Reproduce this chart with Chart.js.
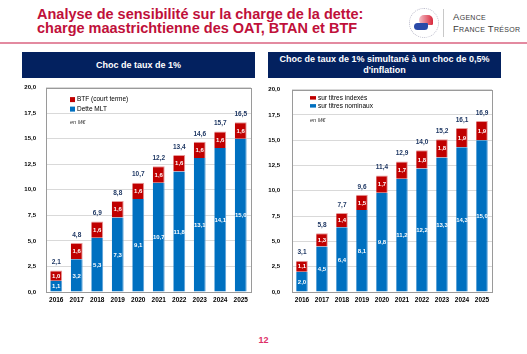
<!DOCTYPE html>
<html>
<head>
<meta charset="utf-8">
<script src="https://cdn.jsdelivr.net/npm/chart.js@4/dist/chart.umd.min.js"></script>
<style>
  body { margin: 0; width: 527px; height: 354px; background: #fff; position: relative; overflow: hidden; font-family: 'Liberation Sans', Arial, sans-serif; }
  .title { position: absolute; left: 37px; top: 7px; color: #c0103a; font-weight: bold; font-size: 14.5px; line-height: 14px; }
  .rule { position: absolute; left: 0; top: 42px; width: 527px; height: 2px; background: #e38aa0; }
  .hdr { position: absolute; top: 52px; height: 26px; background: #03215f; color: #fff; font-weight: bold; font-size: 9px; text-align: center; display: flex; align-items: center; justify-content: center; line-height: 11px; }
  .box { position: absolute; top: 74px; height: 234px; }
  .box canvas { display: block; }
  .logo-sep { position: absolute; left: 443px; top: 9px; width: 1px; height: 28px; background: #c8c8c8; }
  .logo-txt { position: absolute; left: 453px; top: 11px; color: #3a3a3a; font-size: 9.5px; line-height: 12px; font-variant: small-caps; letter-spacing: 0.3px; }
  .seal { position: absolute; left: 409px; top: 8px; width: 28px; height: 28px; border-radius: 50%; border: 1px dotted #b8b8c8; }
  .seal .r { position: absolute; left: 9px; top: 6px; width: 14px; height: 10px; border-radius: 8px 8px 2px 8px; background: linear-gradient(90deg, #f4c0c8, #d8283c); }
  .seal .b { position: absolute; left: 4px; top: 14px; width: 14px; height: 7px; border-radius: 6px 2px 6px 6px; background: #2a4aa8; }
  .page { position: absolute; left: 0; width: 527px; top: 335px; text-align: center; color: #de2f68; font-weight: bold; font-size: 9px; }
</style>
</head>
<body>
<div class="title">Analyse de sensibilité sur la charge de la dette:<br>charge maastrichtienne des OAT, BTAN et BTF</div>
<div class="seal"><div class="r"></div><div class="b"></div></div>
<div class="logo-sep"></div>
<div class="logo-txt">Agence<br>France Trésor</div>
<div class="rule"></div>

<div class="hdr" style="left:22px;width:233px;">Choc de taux de 1%</div>
<div class="hdr" style="left:268px;width:233px;">Choc de taux de 1% simultané à un choc de 0,5%<br>d'inflation</div>

<div class="box" style="left:18px;width:236px;"><canvas id="c1"></canvas></div>
<div class="box" style="left:264px;width:231px;"><canvas id="c2"></canvas></div>
<div class="page">12</div>

<script>
const years = ['2016', '2017', '2018', '2019', '2020', '2021', '2022', '2023', '2024', '2025'];

const mltDebt = [1.1, 3.2, 5.3, 7.3, 9.1, 10.7, 11.8, 13.1, 14.1, 15.0];
const btfShort = [1.0, 1.6, 1.6, 1.6, 1.6, 1.6, 1.6, 1.6, 1.6, 1.6];
const totalsRate = [2.1, 4.8, 6.9, 8.8, 10.7, 12.2, 13.4, 14.6, 15.7, 16.5];

const nominalTitles = [2.0, 4.5, 6.4, 8.1, 9.8, 11.2, 12.2, 13.3, 14.3, 15.0];
const indexedTitles = [1.1, 1.3, 1.4, 1.5, 1.7, 1.7, 1.8, 1.8, 1.9, 1.9];
const totalsInfl = [3.1, 5.8, 7.7, 9.6, 11.4, 12.9, 14.0, 15.2, 16.1, 16.9];

const BLUE = '#0070c0';
const RED = '#c00000';
const NAVY = '#1f3864';
const FONT = "'Liberation Sans', Arial, sans-serif";
const fmt = v => v.toFixed(1).replace('.', ',');

const decor = {
  id: 'decor',
  afterDatasetsDraw(chart, args, opts) {
    const { ctx, chartArea: a } = chart;
    ctx.save();
    ctx.strokeStyle = '#9a9a9a';
    ctx.lineWidth = 1;
    ctx.strokeRect(Math.round(a.left) + 0.5, Math.round(a.top) + 0.5, Math.round(a.right - a.left), Math.round(a.bottom - a.top));

    ctx.textAlign = 'center';
    ctx.textBaseline = 'middle';
    ctx.font = `bold 6px ${FONT}`;
    ctx.fillStyle = '#fff';
    chart.data.datasets.forEach((ds, i) => {
      chart.getDatasetMeta(i).data.forEach((bar, j) => {
        ctx.fillText(fmt(ds.data[j]), bar.x, (bar.y + bar.base) / 2 + 0.5);
      });
    });
    const top = chart.getDatasetMeta(chart.data.datasets.length - 1).data;
    ctx.fillStyle = NAVY;
    ctx.font = `bold 6.5px ${FONT}`;
    top.forEach((bar, j) => ctx.fillText(fmt(opts.totals[j]), bar.x, bar.y - 8));

    // legend, red entry first
    ctx.textAlign = 'left';
    ctx.font = `6.5px ${FONT}`;
    const lx = a.left + opts.lx;
    const items = [[RED, chart.data.datasets[1].label], [BLUE, chart.data.datasets[0].label]];
    items.forEach(([col, label], k) => {
      const y = a.top + opts.ly + k * opts.step;
      ctx.fillStyle = col;
      ctx.fillRect(lx, y - 2.5, opts.mw, opts.mh);
      ctx.fillStyle = '#000';
      ctx.fillText(label, lx + opts.mw + 2, y);
    });
    ctx.font = `italic 5.5px ${FONT}`;
    ctx.fillStyle = '#333';
    ctx.fillText('en M€', lx, a.top + opts.ey);
    ctx.restore();
  }
};

function renderStacked(canvasId, lower, upper, labels, totals, legendPos, yPad) {
  const canvas = document.getElementById(canvasId);
  return new Chart(canvas, {
    type: 'bar',
    data: {
      labels: years,
      datasets: [
        { label: labels[0], data: lower, backgroundColor: BLUE, borderColor: '#5aa0d8', borderWidth: { right: 1 }, borderSkipped: false },
        { label: labels[1], data: upper, backgroundColor: RED, borderColor: '#e79a9a', borderWidth: { top: 1, right: 1 }, borderSkipped: false },
      ],
    },
    options: {
      responsive: true, maintainAspectRatio: false, animation: false,
      categoryPercentage: 1, barPercentage: 0.58,
      layout: { padding: { top: 4.4, right: 3, left: 0, bottom: 0 } },
      plugins: { legend: { display: false }, tooltip: { enabled: false }, decor: { totals, ...legendPos } },
      scales: {
        x: {
          stacked: true,
          grid: { display: false, drawTicks: false },
          border: { display: false },
          ticks: { color: '#000', font: { family: FONT, size: 6.5, weight: 'bold' }, padding: 4, maxRotation: 0 },
          afterFit: s => { s.height = 16; },
        },
        y: {
          stacked: true, min: 0, max: 20,
          grid: { color: '#d9d9d9', drawTicks: false },
          border: { display: false },
          ticks: { stepSize: 2.5, color: '#000', padding: yPad, font: { family: FONT, size: 6, weight: 'bold' }, callback: v => fmt(v) },
          afterFit: s => { s.width = 28; },
        },
      },
    },
    plugins: [decor],
  });
}

renderStacked('c1', mltDebt, btfShort, ['Dette MLT', 'BTF (court terme)'], totalsRate,
  { lx: 24, ly: 12, step: 9.5, ey: 35, mw: 5, mh: 5 }, 10);
renderStacked('c2', nominalTitles, indexedTitles, ['sur titres nominaux', 'sur titres indexés'], totalsInfl,
  { lx: 18, ly: 9, step: 8, ey: 31, mw: 6, mh: 3.5 }, 12);
</script>
</body>
</html>
